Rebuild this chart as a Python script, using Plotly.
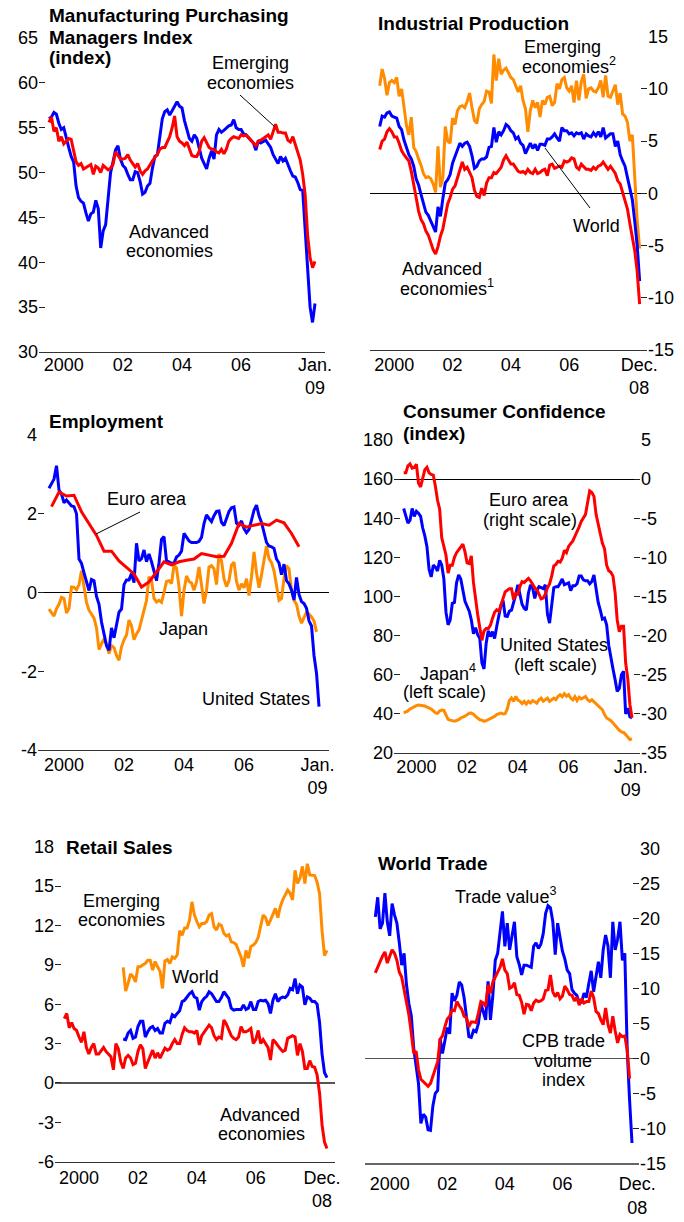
import plotly.graph_objects as go

# ---------------- DATA ----------------
# Manufacturing PMI (index), monthly Jan 2000 - Jan 2009
PMI_ADV = [56.0,56.2,56.7,56.5,55.5,54.8,55.0,53.8,52.8,51.8,51.2,48.5,
           47.2,46.8,46.6,45.5,44.6,45.4,45.6,46.9,46.0,41.6,43.5,44.2,
           47.0,50.0,51.2,52.5,53.0,51.5,50.8,50.5,49.8,49.2,49.2,50.1,
           50.0,49.0,47.6,47.8,48.5,48.8,50.5,51.8,52.0,54.0,56.0,56.8,
           57.0,56.4,56.9,57.4,57.9,57.4,57.2,55.8,54.7,53.8,53.5,54.2,
           53.8,52.8,51.6,51.0,50.4,51.6,52.4,51.5,54.2,54.8,54.5,54.7,
           55.0,55.2,55.3,55.9,55.0,54.8,54.8,54.3,54.2,53.9,53.6,53.3,
           52.5,53.6,53.3,53.5,53.6,53.2,52.8,52.0,51.5,51.0,51.8,51.3,
           51.6,50.8,50.2,49.6,49.5,48.9,48.1,48.0,43.5,38.8,35.0,33.3,
           35.4]
PMI_EME = [55.6,56.2,54.6,55.0,53.5,54.0,53.2,53.5,53.8,53.7,52.6,51.2,
           50.8,51.0,50.4,50.6,50.7,50.9,49.8,50.7,50.5,50.0,50.8,50.6,
           50.3,50.5,50.9,52.3,51.9,51.5,51.5,51.6,52.0,51.4,51.0,50.6,
           51.0,50.2,49.8,50.2,50.4,50.9,51.3,51.7,52.0,52.6,52.8,52.8,
           53.4,54.0,55.0,56.3,54.0,53.5,53.3,53.0,53.4,52.6,51.9,51.8,
           51.8,52.4,53.5,53.9,53.4,52.8,52.6,52.6,52.3,52.2,52.6,52.1,
           52.6,53.5,53.8,54.0,53.9,53.8,54.2,54.1,54.2,53.9,53.6,53.2,
           53.0,53.5,53.6,53.8,54.0,54.2,53.7,54.5,55.4,54.5,54.5,54.4,
           54.4,53.6,53.4,54.0,53.2,52.2,51.4,49.8,47.5,43.0,40.5,39.4,
           40.1]

# Industrial production (percent change), monthly Jan 2000 - Dec 2008
IP_EME = [10.3,11.9,11.0,9.4,10.6,10.8,10.6,11.1,9.3,10.0,8.3,6.5,
          5.6,7.3,4.4,4.0,3.3,2.7,1.9,1.5,1.6,1.4,0.9,0.1,
          4.5,0.6,1.5,6.4,5.0,4.8,7.2,6.6,7.9,8.3,8.4,8.2,
          8.8,9.6,8.2,7.0,6.7,8.1,8.5,8.8,9.8,9.7,8.6,13.3,
          10.8,12.9,11.4,11.8,12.0,11.5,11.1,10.9,10.2,9.7,10.3,8.9,
          8.1,5.9,7.9,8.9,8.2,8.7,7.3,8.9,8.5,9.2,9.3,8.4,
          8.7,10.5,10.0,10.9,11.1,10.1,9.8,10.3,8.7,10.8,8.9,10.7,
          11.4,9.1,10.0,10.1,9.8,9.7,10.1,10.8,9.2,11.3,9.3,9.2,
          9.8,10.4,8.5,9.6,7.6,7.4,6.8,5.0,5.6,1.0,-2.6,-5.3]
IP_WORLD = [6.4,7.4,7.3,7.7,7.8,7.4,7.3,7.2,6.4,6.1,5.1,4.3,
            3.7,3.3,2.6,1.4,0.8,-0.1,-1.0,-1.8,-2.1,-2.7,-3.3,-3.7,
            -1.3,-2.2,-0.5,1.0,1.3,1.8,2.9,3.5,4.1,4.8,4.5,4.8,
            4.9,4.5,3.6,2.4,2.6,3.1,3.3,3.3,3.5,4.4,4.5,6.3,
            4.9,5.9,5.6,6.0,6.6,6.4,6.0,5.8,5.2,5.4,4.8,4.6,
            3.8,4.3,4.8,4.3,4.7,4.1,4.7,4.7,4.6,5.2,5.2,5.4,
            5.7,5.3,5.0,6.3,6.0,6.0,5.7,5.8,5.5,5.8,5.7,5.8,
            5.2,5.7,5.5,5.4,5.8,5.5,5.9,5.4,6.3,5.3,5.5,5.7,
            5.7,4.5,5.0,3.7,3.1,2.6,1.5,0.5,-0.6,-2.7,-5.0,-8.4]
IP_ADV = [4.2,5.0,5.2,5.9,6.2,5.9,5.4,5.4,4.8,4.1,3.7,3.4,
          3.1,2.1,1.0,-0.4,-1.7,-2.5,-2.9,-3.6,-4.0,-4.8,-5.4,-5.8,
          -5.1,-4.1,-3.4,-2.2,-1.0,-0.4,0.4,0.7,1.5,2.3,3.0,2.3,
          2.5,2.0,1.5,0.3,-0.3,-0.4,0.5,-0.2,1.0,1.5,1.5,2.0,
          1.9,2.2,2.5,3.2,3.6,3.2,2.8,2.8,2.4,2.1,2.0,2.1,
          1.9,2.3,2.0,1.9,2.3,1.9,2.0,2.2,2.3,1.7,2.7,2.8,
          2.4,2.5,2.6,2.5,3.1,3.0,3.1,3.4,3.3,2.5,2.3,2.8,
          2.5,2.3,2.3,2.2,2.5,2.3,2.6,2.7,3.0,2.7,2.3,2.6,
          2.3,1.9,1.2,0.9,0.1,-0.6,-1.5,-2.9,-4.3,-5.5,-7.5,-10.6]

# Employment (percent change)
EMP_US = [2.65,2.78,2.88,3.22,2.6,2.5,2.28,2.35,2.27,2.2,2.18,2.0,
          0.85,0.74,0.5,0.25,0.05,0.33,0.3,-0.1,-0.3,-0.75,-1.1,-1.35,
          -1.47,-0.9,-1.15,-0.85,-0.5,-0.42,0.2,0.32,0.32,0.48,0.25,1.25,
          0.8,0.86,1.08,0.78,0.98,0.78,0.55,0.3,0.75,1.35,1.42,0.8,
          0.78,0.74,0.75,0.9,0.95,1.05,1.5,1.4,1.31,1.27,1.27,1.27,
          1.3,1.4,1.75,1.97,1.88,1.8,1.95,2.06,2.07,1.78,1.7,1.9,
          2.06,2.15,2.17,1.76,1.71,1.82,1.62,1.52,1.6,1.84,2.09,2.22,
          1.95,1.78,1.5,1.27,1.18,1.16,1.12,0.85,0.75,0.45,0.72,0.3,
          0.22,0.06,-0.19,0.38,-0.05,-0.23,-0.28,-0.4,-0.72,-0.85,-1.6,-2.05,
          -2.9]
# Euro area: quarterly observations (months 1, 4, 7, ... from Jan 2000)
EMP_EURO = [2.18,2.55,2.45,2.47,2.05,1.75,1.45,1.05,1.05,0.8,0.63,0.47,
            0.14,0.27,0.52,0.78,0.7,0.78,0.82,0.85,0.99,0.95,0.91,0.92,
            1.25,1.75,1.66,1.71,1.75,1.71,1.84,1.77,1.5,1.16]
EMP_JPN = [-0.42,-0.5,-0.6,-0.41,-0.3,-0.12,-0.15,-0.52,-0.4,0.14,0.13,0.07,
           0.2,0.55,0.2,-0.25,-0.45,-0.55,-0.65,-0.9,-1.45,-1.3,-1.18,-1.32,
           -1.55,-1.35,-1.4,-1.6,-1.72,-1.38,-1.2,-1.08,-0.7,-0.85,-1.2,-1.05,
           -0.95,-0.7,-0.47,-0.2,0.4,0.31,-0.15,-0.24,-0.2,-0.25,0.0,0.28,
           0.3,0.23,0.7,0.62,0.15,-0.6,0.05,0.42,0.28,0.24,0.06,0.27,
           0.65,0.15,-0.28,0.05,0.65,0.68,0.6,0.2,0.98,0.8,0.35,0.15,
           0.3,0.7,0.77,0.28,0.06,0.22,0.12,0.35,-0.08,0.4,1.03,0.5,
           0.12,0.45,0.82,1.18,0.86,0.76,0.55,0.15,-0.2,-0.15,0.35,0.68,
           0.6,0.05,-0.2,-0.3,-0.6,-0.78,-0.62,-0.5,-0.55,-0.62,-0.72,-1.0]

# Consumer confidence
CC_US = [145,141,137.5,139,145,141,143.5,142.5,141,135,131,125.5,
         114,110,116,115,113,118.5,116,109,92,85.5,88,96.5,
         97,107,111,109,104,97.5,95,92.5,88,81,84,80.5,
         78.5,66,63,76,82.5,79.5,82,78.5,84.7,89.5,95.5,98,
         90,89.8,92.5,93,96.5,101,106,100,96,94,93,101.7,
         106,104.5,99,103,105,104.5,104,106,91,86.4,96.6,104.5,
         105,105,106.8,109,106,106.5,107,103,105.5,105.5,106.5,110.5,
         110.5,108.5,108,108,106.5,107.7,111,104,97,93,88.5,89,
         85.5,75,68,63,57.5,51.5,53,60,61.7,40,43,38.5,
         37.9]
CC_EURO = [0.8,0.8,1.7,1.95,1.4,1.5,1.9,-0.5,-1.0,0.25,1.2,1.5,
           0.8,0.6,0.5,-0.9,-2.7,-3.8,-7.5,-8.6,-9.7,-12,-11,-11,
           -10.0,-9.4,-9.0,-8.7,-8.3,-9.3,-10.7,-10.8,-9.8,-13.2,-15.5,-17.3,
           -19,-20.6,-19.4,-19.1,-19.1,-18.7,-17.8,-17.0,-16.7,-16.9,-16.1,-15.1,
           -14.4,-14.2,-14.0,-14.0,-15.4,-14.6,-14.7,-13.7,-13.1,-13.2,-12.9,-12.7,
           -13.0,-13.4,-13.9,-14.1,-14.7,-15.3,-15.2,-14.7,-13.9,-13.4,-12.4,-11.1,
           -10.9,-10.5,-10.6,-10.1,-9.1,-9.4,-8.6,-8.3,-7.9,-7.3,-6.8,-6.1,
           -5.4,-5.0,-4.5,-3.0,-1.5,-1.7,-2.2,-4.5,-5.8,-7.0,-8.2,-8.9,
           -11.0,-11.7,-11.9,-12.4,-14.5,-18.0,-19.5,-18.8,-18.8,-23.5,-25.5,-28.8,
           -30.5]
CC_JPN = [40.5,41.0,41.5,42.5,43.2,43.8,44.2,44.5,44.4,44.2,44.0,43.5,
          43.0,42.5,41.5,40.5,40.3,41.5,42.0,41.8,39.5,37.2,36.8,36.5,
          36.3,36.6,37.0,37.9,38.3,38.8,39.6,40.3,40.4,39.8,38.7,37.8,
          37.0,36.8,36.2,36.5,37.0,37.9,38.3,38.7,39.6,40.2,40.4,40.0,
          40.1,42.5,46.8,48.1,46.4,48.9,47.0,46.5,45.3,46.4,45.0,46.4,
          45.6,46.8,46.0,45.5,47.2,48.0,46.5,47.3,48.0,46.4,47.2,48.1,
          47.3,48.9,49.8,48.8,50.3,49.0,49.8,48.1,47.2,48.8,46.8,48.5,
          47.6,48.1,48.9,47.2,46.4,47.2,46.2,45.5,44.5,43.3,42.1,39.6,
          37.9,37.2,36.5,35.3,34.0,32.8,31.6,30.8,30.5,29.4,28.0,26.9,
          27.2]

# Retail sales (percent change)
RS_ADV = [4.9,5.3,4.2,4.6,4.15,4.0,3.5,3.1,3.9,2.7,2.2,2.7,
          3.0,2.2,2.2,2.5,2.7,2.4,2.2,2.0,1.0,3.0,2.6,1.6,
          1.1,1.9,2.1,1.9,1.4,1.5,2.4,2.9,2.6,1.1,1.6,2.1,
          2.5,1.9,2.3,1.9,2.3,2.65,2.5,2.6,3.0,3.3,3.0,3.0,
          3.7,4.2,4.0,3.9,3.9,3.8,4.0,2.9,3.6,3.9,4.2,4.4,
          4.2,3.6,3.3,3.5,3.4,4.8,4.5,4.1,3.6,3.4,3.3,3.5,
          4.3,3.9,3.9,4.0,4.15,3.0,3.3,4.0,3.0,3.3,3.0,2.7,
          1.75,3.3,3.1,2.8,2.6,2.4,2.5,3.4,3.5,3.6,3.5,2.1,
          3.0,2.4,1.1,1.1,1.7,1.25,1.2,0.6,-0.8,-3.2,-4.5,-5.0]
# World and emerging start in Jan 2002
RS_WORLD = [3.35,3.3,3.8,4.0,3.4,3.5,4.3,4.7,4.7,3.5,3.9,4.2,
            4.3,4.0,4.15,3.8,3.8,4.55,4.7,4.6,5.2,5.05,5.3,5.5,
            6.2,6.3,6.55,6.8,6.95,6.55,6.45,5.55,6.2,6.45,6.6,6.95,
            6.8,6.5,6.2,6.2,6.5,6.95,6.7,6.45,5.7,5.55,5.6,5.6,
            5.6,5.95,5.6,5.7,6.2,5.6,5.6,6.2,6.3,6.25,6.3,6.05,
            5.3,6.3,6.8,6.2,6.45,6.55,6.5,6.7,7.2,7.1,7.95,6.8,
            7.45,7.3,5.95,6.55,6.45,6.2,6.2,6.0,4.6,2.2,0.8,0.4]
RS_EME = [8.8,7.0,7.6,8.3,8.1,7.7,8.85,8.85,9.0,9.1,9.35,9.35,
          8.6,9.25,8.85,8.5,7.2,9.3,9.4,9.1,9.6,9.5,9.75,11.6,
          11.25,11.8,11.8,12.4,13.8,12.8,12.3,11.9,12.15,12.15,12.3,12.8,
          12.9,11.9,11.65,12.1,12.0,11.4,11.2,11.3,10.75,10.7,10.55,10.1,
          9.6,8.85,10.1,9.5,10.4,10.5,10.7,11.1,11.9,12.8,12.6,12.0,
          12.4,12.9,13.3,12.6,13.45,13.95,14.3,14.7,14.45,13.95,16.2,15.2,
          15.6,16.5,15.2,16.7,15.85,15.85,15.8,15.3,14.4,11.6,9.7,10.1]

# World trade (percent change)
WT_VALUE = [20.2,23.0,18.5,19.3,23.6,19.5,17.5,22.1,20.5,19.3,16.5,13.3,
            15.0,10.5,7.8,6.1,1.5,-1.0,-3.6,-9.3,-8.0,-8.4,-10.2,-10.3,
            -6.8,-5.0,-4.6,2.8,0.7,2.5,4.4,3.5,9.3,8.2,9.0,10.9,
            10.5,8.7,6.0,3.1,3.0,4.0,3.8,5.0,7.8,6.5,5.5,11.0,
            5.5,9.0,14.0,15.0,18.0,21.0,16.0,19.3,15.5,17.4,19.5,14.5,
            13.4,11.9,13.3,13.3,13.1,13.0,16.0,16.5,15.7,16.3,17.8,20.7,
            21.8,21.5,19.5,14.8,19.3,17.0,15.3,14.2,12.6,12.1,9.8,9.3,
            9.0,8.0,8.0,9.3,8.7,10.7,12.5,9.5,11.5,13.8,11.5,15.5,
            17.6,16.0,11.5,19.5,15.5,17.0,19.5,14.0,15.0,1.2,-6.0,-12.1]
WT_CPB = [12.2,12.9,13.8,14.6,15.2,13.6,14.6,15.5,15.0,14.0,12.3,11.6,
          9.8,8.0,6.2,3.6,0.7,1.0,-1.6,-3.0,-3.3,-3.6,-4.0,-3.6,
          -2.5,-1.6,-0.5,2.7,3.2,4.5,5.6,6.0,6.9,6.8,8.1,7.5,
          7.0,6.0,5.8,4.5,5.2,5.2,5.1,6.5,8.1,7.9,7.4,10.5,
          9.3,10.9,11.7,12.3,13.0,14.2,12.6,12.1,10.0,10.2,10.8,9.1,
          9.0,8.0,6.3,7.7,7.6,6.8,7.9,8.3,8.1,8.2,8.5,9.7,
          9.8,11.9,9.5,8.8,9.4,8.5,8.9,10.3,9.8,9.1,9.0,8.2,
          8.7,7.6,8.5,7.9,8.1,8.1,9.6,8.7,6.7,6.4,5.5,4.8,
          7.2,4.8,3.6,6.0,3.9,2.2,3.4,3.1,3.2,1.2,-2.9]

# Tick positions and labels
YEAR_TICKS = [2000, 2001, 2002, 2003, 2004, 2005, 2006, 2007, 2008, 2009]
XLABELS_JAN = ['2000', '02', '04', '06', 'Jan.<br>09']
XLABELS_DEC = ['2000', '02', '04', '06', 'Dec.<br>08']

PMI_YTICKS = [30, 32.5, 35, 37.5, 40, 42.5, 45, 47.5, 50, 52.5, 55, 57.5, 60, 62.5, 65]
PMI_YLABELS = ['30', '', '35', '', '40', '', '45', '', '50', '', '55', '', '60', '', '65']
IP_YTICKS = [-15, -12.5, -10, -7.5, -5, -2.5, 0, 2.5, 5, 7.5, 10, 12.5, 15]
IP_YLABELS = ['-15', '', '-10', '', '-5', '', '0', '', '5', '', '10', '', '15']
EMP_YTICKS = [-4, -3, -2, -1, 0, 1, 2, 3, 4]
EMP_YLABELS = ['-4', '', '-2', '', '0', '', '2', '', '4']
CC_LTICKS = [20, 30, 40, 50, 60, 70, 80, 90, 100, 110, 120, 130, 140, 150, 160, 170, 180]
CC_LLABELS = ['20', '', '40', '', '60', '', '80', '', '100', '', '120', '', '140', '', '160', '', '180']
CC_RTICKS = [-35, -32.5, -30, -27.5, -25, -22.5, -20, -17.5, -15, -12.5, -10, -7.5, -5, -2.5, 0, 2.5, 5]
CC_RLABELS = ['-35', '', '-30', '', '-25', '', '-20', '', '-15', '', '-10', '', '-5', '', '0', '', '5']
RS_YTICKS = [-6, -4.5, -3, -1.5, 0, 1.5, 3, 4.5, 6, 7.5, 9, 10.5, 12, 13.5, 15, 16.5, 18]
RS_YLABELS = ['-6', '', '-3', '', '0', '', '3', '', '6', '', '9', '', '12', '', '15', '', '18']
WT_YTICKS = [-15, -12.5, -10, -7.5, -5, -2.5, 0, 2.5, 5, 7.5, 10, 12.5, 15, 17.5, 20, 22.5, 25, 27.5, 30]
WT_YLABELS = ['-15', '', '-10', '', '-5', '', '0', '', '5', '', '10', '', '15', '', '20', '', '25', '', '30']

# ---------------- STYLE / LAYOUT ----------------
W, H = 684, 1222
FONT = 'Liberation Sans, Arial, sans-serif'
BLUE, RED, ORANGE = '#0000FF', '#FF0000', '#FF8C00'


def fx(x):  # pixel -> paper fraction
    return x / W


def fy(y):
    return 1 - y / H


def months(n, start=0, step=1):
    return [2000 + (start + k * step) / 12.0 for k in range(n)]


def labelled(vals, texts):
    return ([v for v, t in zip(vals, texts) if t], [t for t in texts if t])


fig = go.Figure()

# panel geometry in pixels: left, right, top, bottom; x range;
# label-x positions; so = x label standoff (px)
panels = {
    1: dict(l=39, r=325, t=38, b=352, xr=[1999.662, 2009.338], so=-4, lc='#333333',
            lab_x=[2000.5, 2002.5, 2004.5, 2006.5, 2009.0], lab=XLABELS_JAN),
    2: dict(l=370, r=647, t=36.7, b=350, xr=[1999.667, 2009.17], so=-2, lc='#333333',
            lab_x=[2000.5, 2002.5, 2004.5, 2006.5, 2008.9], lab=XLABELS_DEC),
    3: dict(l=38, r=329, t=435, b=750, xr=[1999.633, 2009.333], so=-2, lc='#333333',
            lab_x=[2000.5, 2002.5, 2004.5, 2006.5, 2008.95], lab=XLABELS_JAN),
    4: dict(l=394, r=640, t=440, b=753, xr=[1999.618, 2009.315], so=-3, lc='#333333',
            lab_x=[2000.5, 2002.5, 2004.5, 2006.5, 2008.95], lab=XLABELS_JAN),
    5: dict(l=55, r=335, t=846.7, b=1161.7, xr=[1999.684, 2009.19], so=-1, lc='#333333',
            lab_x=[2000.5, 2002.5, 2004.5, 2006.5, 2008.75], lab=XLABELS_DEC),
    6: dict(l=365, r=639, t=848.3, b=1163.3, xr=[1999.642, 2009.16], so=4, lc='#666666',
            lab_x=[2000.5, 2002.5, 2004.5, 2006.5, 2009.1], lab=XLABELS_DEC),
}

yspec = {
    1: dict(rng=[30, 65], tv=PMI_YTICKS, tt=PMI_YLABELS, side='left', zl=None),
    2: dict(rng=[-15, 15], tv=IP_YTICKS, tt=IP_YLABELS, side='right', zl='black'),
    3: dict(rng=[-4, 4], tv=EMP_YTICKS, tt=EMP_YLABELS, side='left', zl='black'),
    4: dict(rng=[20, 180], tv=CC_LTICKS, tt=CC_LLABELS, side='left', zl=None),
    5: dict(rng=[-6, 18], tv=RS_YTICKS, tt=RS_YLABELS, side='left', zl='#555555'),
    6: dict(rng=[-15, 30], tv=WT_YTICKS, tt=WT_YLABELS, side='right', zl='#555555'),
}

tickfont = dict(size=18, color='black', family=FONT)
tickstyle = dict(ticks='inside', ticklen=6, tickcolor='#222222', tickwidth=1,
                 automargin=False, showline=False, showgrid=False, fixedrange=True)
layout = {}
for k, p in panels.items():
    xs = '' if k == 1 else str(k)
    ys = yspec[k]
    # main x axis: line + labels centred in the year
    layout['xaxis' + xs] = dict(
        domain=[fx(p['l']), fx(p['r'])], range=p['xr'], anchor='y' + xs,
        tickmode='array', tickvals=p['lab_x'], ticktext=p['lab'], ticks='',
        ticklabelstandoff=p['so'], tickfont=tickfont, automargin=False,
        showline=True, linecolor=p['lc'], linewidth=1.3, showgrid=False,
        zeroline=False, fixedrange=True)
    # overlaying x axis: tick marks at year boundaries
    layout['xaxis' + str(k + 12)] = dict(
        overlaying='x' + xs, anchor='y' + xs, side='bottom', range=p['xr'],
        tickmode='array', tickvals=YEAR_TICKS, showticklabels=False,
        ticks='inside', ticklen=6, tickcolor='black', tickwidth=1,
        automargin=False, showline=False, showgrid=False, zeroline=False,
        fixedrange=True)
    # main y axis: labelled values only
    lv, lt = labelled(ys['tv'], ys['tt'])
    layout['yaxis' + xs] = dict(
        domain=[fy(p['b']), fy(p['t'])], range=ys['rng'], anchor='x' + xs,
        side=ys['side'], tickmode='array', tickvals=lv, ticktext=lt,
        tickfont=tickfont,
        zeroline=ys['zl'] is not None, zerolinecolor=ys['zl'] or 'black',
        zerolinewidth=(1.5 if k >= 5 else 1), **tickstyle)
    opp = 'right' if ys['side'] == 'left' else 'left'
    # all tick marks, same side (no labels)
    layout['yaxis' + str(k + 12)] = dict(
        overlaying='y' + xs, anchor='x' + xs, side=ys['side'], range=ys['rng'],
        tickmode='array', tickvals=ys['tv'], showticklabels=False,
        zeroline=False, **tickstyle)
    if k == 4:
        # right-hand scale (euro area), labelled values
        rv, rt = labelled(CC_RTICKS, CC_RLABELS)
        layout['yaxis10'] = dict(
            overlaying='y4', anchor='x4', side='right', range=[-35, 5],
            tickmode='array', tickvals=rv, ticktext=rt, tickfont=tickfont,
            zeroline=True, zerolinecolor='black', zerolinewidth=1, **tickstyle)
        layout['yaxis19'] = dict(
            overlaying='y4', anchor='x4', side='right', range=[-35, 5],
            tickmode='array', tickvals=CC_RTICKS, showticklabels=False,
            zeroline=False, **tickstyle)
    else:
        # all tick marks, opposite side (no labels)
        layout['yaxis' + str(k + 6)] = dict(
            overlaying='y' + xs, anchor='x' + xs, side=opp, range=ys['rng'],
            tickmode='array', tickvals=ys['tv'], showticklabels=False,
            zeroline=False, **tickstyle)


def line(panel, x, y, color, yaxis=None):
    xs = '' if panel == 1 else str(panel)
    fig.add_trace(go.Scatter(
        x=x, y=y, mode='lines', line=dict(color=color, width=3),
        xaxis='x' + xs, yaxis=yaxis or ('y' + xs),
        showlegend=False, hoverinfo='skip'))


# Panel 1
line(1, months(len(PMI_ADV)), PMI_ADV, BLUE)
line(1, months(len(PMI_EME)), PMI_EME, RED)
# Panel 2
line(2, months(len(IP_EME)), IP_EME, ORANGE)
line(2, months(len(IP_WORLD)), IP_WORLD, BLUE)
line(2, months(len(IP_ADV)), IP_ADV, RED)
# Panel 3
line(3, months(len(EMP_JPN)), EMP_JPN, ORANGE)
line(3, months(len(EMP_US)), EMP_US, BLUE)
line(3, months(len(EMP_EURO), start=1, step=3), EMP_EURO, RED)
# Panel 4
line(4, months(len(CC_JPN)), CC_JPN, ORANGE)
line(4, months(len(CC_US)), CC_US, BLUE)
line(4, months(len(CC_EURO)), CC_EURO, RED, yaxis='y10')
# Panel 5
line(5, months(len(RS_EME), start=24), RS_EME, ORANGE)
line(5, months(len(RS_WORLD), start=24), RS_WORLD, BLUE)
line(5, months(len(RS_ADV)), RS_ADV, RED)
# Panel 6
line(6, months(len(WT_VALUE)), WT_VALUE, BLUE)
line(6, months(len(WT_CPB)), WT_CPB, RED)


def text(t, x, y, bold=False, anchor='center', size=None):
    fig.add_annotation(
        text=('<b>%s</b>' % t) if bold else t, x=fx(x), y=fy(y),
        xref='paper', yref='paper', showarrow=False, xanchor=anchor,
        yanchor='middle', borderpad=0,
        font=dict(size=size or (19 if bold else 18), color='black', family=FONT))


def leader(x0, y0, x1, y1):
    fig.add_shape(type='line', xref='paper', yref='paper',
                  x0=fx(x0), y0=fy(y0), x1=fx(x1), y1=fy(y1),
                  line=dict(color='black', width=1))


# Panel 1 labels
text('Manufacturing Purchasing', 48, 16, bold=True, anchor='left')
text('Managers Index', 48, 37, bold=True, anchor='left')
text('(index)', 48, 58, bold=True, anchor='left')
text('Emerging', 250, 63)
text('economies', 250, 83)
leader(240, 95, 275, 127)
text('Advanced', 169, 232)
text('economies', 169, 251)
# Panel 2 labels
text('Industrial Production', 377, 23, bold=True, anchor='left')
text('Emerging', 562, 47)
text('economies<sup>2</sup>', 569, 66)
leader(545, 148, 590, 208)
text('World', 596, 226)
text('Advanced', 442, 269)
text('economies<sup>1</sup>', 447, 288)
# Panel 3 labels
text('Employment', 48, 421, bold=True, anchor='left')
text('Euro area', 147, 499)
leader(140, 512, 96, 534)
text('Japan', 183, 629)
text('United States', 256, 699)
# Panel 4 labels
text('Consumer Confidence', 402, 411, bold=True, anchor='left')
text('(index)', 402, 433, bold=True, anchor='left')
text('Euro area', 529, 500)
text('(right scale)', 530, 520)
text('United States', 554, 645)
text('(left scale)', 555, 665)
text('Japan<sup>4</sup>', 448, 672)
text('(left scale)', 444, 692)
# Panel 5 labels
text('Retail Sales', 65, 848, bold=True, anchor='left')
text('Emerging', 121, 901)
text('economies', 121, 920)
text('World', 195, 977)
text('Advanced', 260, 1115)
text('economies', 261, 1134)
# Panel 6 labels
text('World Trade', 377, 863, bold=True, anchor='left')
text('Trade value<sup>3</sup>', 505, 895)
text('CPB trade', 563, 1041)
text('volume', 563, 1061)
text('index', 563, 1080)

fig.update_layout(
    template='none',
    width=W, height=H, autosize=False,
    margin=dict(l=0, r=0, t=0, b=0, pad=0, autoexpand=False),
    paper_bgcolor='white', plot_bgcolor='white',
    hovermode=False, showlegend=False,
    font=dict(family=FONT, size=18, color='black'),
    **layout)

fig.write_html("out.html", default_width='684px', default_height='1222px',
               config={'displayModeBar': False, 'staticPlot': True, 'responsive': False},
               post_script="document.body.style.margin='0';document.body.style.overflow='hidden';")
